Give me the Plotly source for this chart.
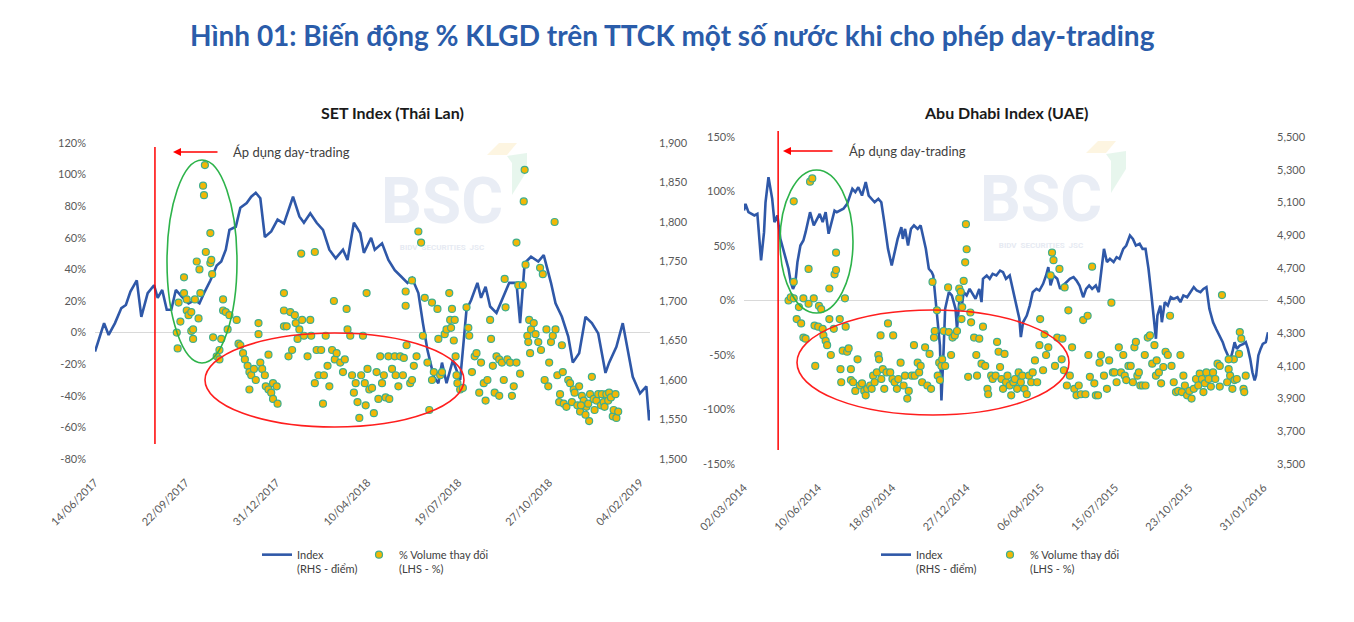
import plotly.graph_objs as go
import pandas as pd

# ---- SET Index (Thai Lan) ----
set_start = "2017-06-14"
set_end_day = 611
set_line_day = [0, 5, 10, 15, 22, 29, 34, 39, 46, 51, 58, 65, 69, 74, 79, 84, 89, 96, 103, 110,
                115, 120, 127, 134, 139, 144, 148, 155, 160, 167, 172, 177, 182, 187, 194, 201,
                208, 218, 225, 230, 237, 244, 251, 258, 265, 273, 278, 285, 292, 296, 304, 308,
                316, 323, 330, 337, 344, 349, 356, 361, 366, 373, 378, 382, 387, 394, 402, 409,
                414, 421, 425, 430, 435, 442, 449, 456, 464, 468, 473, 480, 488, 494, 502, 507,
                514, 521, 526, 533, 540, 547, 554, 562, 566, 574, 581, 585, 592, 600, 607, 610, 611]
set_index = [1636, 1655, 1672, 1657, 1672, 1691, 1695, 1712, 1726, 1680, 1710, 1720, 1704, 1714, 1689, 1689, 1714, 1705, 1697, 1701,
             1697, 1710, 1726, 1745, 1750, 1765, 1790, 1794, 1818, 1824, 1832, 1837, 1830, 1781, 1788, 1803,
             1798, 1832, 1807, 1799, 1811, 1799, 1790, 1765, 1754, 1765, 1752, 1799, 1786, 1761, 1780, 1765,
             1773, 1752, 1739, 1731, 1723, 1729, 1710, 1672, 1638, 1604, 1596, 1622, 1596, 1625, 1600, 1689,
             1701, 1723, 1704, 1718, 1693, 1685, 1705, 1723, 1723, 1672, 1748, 1756, 1750, 1758, 1723, 1697,
             1680, 1655, 1622, 1634, 1680, 1672, 1659, 1609, 1622, 1642, 1672, 1647, 1604, 1583, 1592, 1549, 1562]
set_vol_day = [91, 90, 92, 94, 98, 98, 101, 101, 103, 106, 106, 108,
               108, 110, 112, 115, 114, 116, 119, 120, 121, 122, 127, 127,
               128, 129, 130, 137, 139, 141, 141, 144, 146, 148, 134, 137,
               156, 158, 160, 163, 165, 168, 170, 170, 172, 175, 177, 180,
               180, 182, 184, 187, 188, 191, 191, 194, 196, 196, 200, 201,
               208, 208, 208, 211, 213, 215, 217, 220, 221, 223, 225, 227,
               228, 230, 234, 237, 238, 242, 242, 244, 246, 249, 251, 252,
               254, 256, 258, 261, 263, 264, 266, 270, 273, 275, 277, 278,
               281, 283, 285, 287, 289, 291, 293, 295, 297, 298, 299, 300,
               302, 305, 307, 310, 312, 314, 316, 318, 320, 323, 324, 327,
               330, 331, 334, 336, 339, 340, 343, 347, 349, 351, 354, 356,
               359, 349, 342, 342, 361, 363, 366, 368, 371, 371, 373, 377,
               378, 380, 382, 385, 387, 390, 391, 392, 393, 395, 396, 397,
               398, 399, 402, 405, 409, 411, 412, 415, 418, 420, 423, 425,
               428, 430, 432, 435, 436, 438, 440, 442, 445, 445, 448, 450,
               451, 452, 454, 457, 459, 461, 464, 464, 466, 468, 471, 472,
               473, 474, 476, 477, 478, 479, 480, 483, 485, 488, 490, 491,
               493, 495, 497, 499, 500, 502, 504, 506, 507, 509, 511, 512,
               514, 515, 516, 519, 521, 523, 525, 527, 528, 531, 533, 534,
               536, 538, 540, 541, 543, 545, 547, 549, 550, 552, 554, 557,
               558, 560, 561, 563, 565, 566, 568, 570, 571, 573, 574, 576,
               544, 535]
set_vol_pct = [-10, 0, 19, 7, 25, 35, 21, 14, 11, 13, 1, 2,
               -4, 21, 45, 40, 9, 25, 93, 87, 106, 51, 44, 63,
               46, 37, -3, -11, -4, 21, 14, 13, 2, 11, -15, -17,
               8, -7, -8, -13, -17, -21, -25, -36, -27, -23, -30, 6,
               -1, -19, -23, -27, -34, -36, -14, -38, -32, -42, -34, -45,
               25, 14, 4, 4, -15, 13, -11, 11, 6, -4, 2, 50,
               8, -2, -15, 8, -2, 51, -32, -11, -27, -11, -45, -27,
               -2, -21, -34, -11, 20, -17, -13, -19, -25, -17, 15, 2,
               -2, -27, -38, -32, -44, -54, -27, -2, -32, -46, 25, -23,
               -36, -35, -51, -25, -42, -15, -32, -27, -41, -15, -42, -23,
               -15, -27, -34, -15, -27, -16, -8, -32, -30, -21, -15, 64,
               57, 33, 26, 17, -2, 22, -19, -49, 19, -30, -25, 15,
               -4, -27, -25, -1, 2, 25, 8, 3, 15, -5, 8, -15,
               -27, -32, -36, -35, 16, 3, -2, -25, -15, -13, -38, -19,
               -32, -43, -30, 8, -4, -21, -38, -15, -17, -40, -19, -30,
               34, 16, -17, -19, -40, -34, -19, 57, 30, -26, 30, 83,
               103, 43, -2, -6, 8, -13, 2, 6, -1, -6, 41, -11,
               37, -30, 2, -34, -19, -6, -2, 70, 2, -27, -44, -39,
               -8, -25, -45, -47, -30, -32, -44, -36, -38, -46, -34, -50,
               -40, -43, -52, -47, -45, -39, -28, -42, -49, -43, -39, -46,
               -39, -44, -47, -39, -43, -38, -41, -53, -49, -39, -54, -50,
               -56, -46]
set_start_day = 66
set_date_ticks = ["14/06/2017", "22/09/2017", "31/12/2017", "10/04/2018",
                  "19/07/2018", "27/10/2018", "04/02/2019"]
set_pct_ticks = [-80, -60, -40, -20, 0, 20, 40, 60, 80, 100, 120]

# ---- Abu Dhabi Index (UAE) ----
adx_start = "2014-03-02"
adx_end_day = 706
adx_line_day = [0, 2, 6, 10, 14, 18, 21, 23, 27, 29, 33, 38, 41, 45, 49, 53, 57, 60, 63, 66,
                69, 72, 76, 80, 83, 86, 89, 94, 98, 102, 106, 110, 114, 118, 122, 125, 130, 134, 139, 143,
                146, 150, 154, 159, 164, 168, 172, 176, 181, 185, 189, 194, 199, 203, 207, 212, 214, 217, 221, 225,
                229, 234, 238, 241, 245, 249, 253, 255, 258, 261, 264, 266, 269, 271, 276, 280, 285, 287, 290, 293,
                296, 300, 304, 308, 312, 317, 320, 322, 327, 331, 335, 340, 345, 349, 353, 358, 362, 366, 371, 373,
                376, 381, 385, 389, 394, 398, 403, 407, 410, 413, 417, 422, 426, 430, 434, 439, 444, 448, 452, 457,
                461, 465, 469, 474, 478, 481, 485, 489, 493, 498, 502, 506, 511, 515, 520, 524, 528, 533, 537, 541,
                545, 549, 552, 555, 557, 561, 563, 567, 571, 575, 579, 584, 588, 592, 597, 601, 606, 610, 615, 619,
                623, 627, 632, 636, 641, 645, 648, 652, 655, 658, 661, 664, 668, 673, 676, 679, 682, 685, 688, 690,
                693, 696, 699, 703, 706]
adx_index = [5050, 5091, 5040, 5030, 5020, 5030, 4877, 4745, 4918, 5101, 5254, 5122, 4979, 5020, 4877, 4816, 4755, 4694, 4612, 4571,
             4602, 4735, 4836, 4867, 4918, 4979, 5040, 4959, 5000, 5030, 4979, 5040, 4908, 4979, 5050, 5040, 5050, 5061, 5091, 5142,
             5183, 5163, 5193, 5142, 5224, 5142, 5122, 5101, 5122, 5101, 4979, 4816, 4714, 4796, 4877, 4949, 4877, 4938, 4836, 4938,
             4959, 4938, 4959, 4898, 4816, 4694, 4673, 4653, 4490, 4367, 4225, 3888, 4204, 4449, 4551, 4531, 4449, 4327, 4490, 4449,
             4551, 4531, 4571, 4541, 4510, 4571, 4490, 4633, 4653, 4633, 4663, 4653, 4683, 4673, 4633, 4653, 4571, 4490, 4388, 4276,
             4367, 4408, 4469, 4551, 4571, 4561, 4602, 4653, 4704, 4592, 4653, 4633, 4571, 4592, 4612, 4633, 4643, 4622, 4592, 4520,
             4571, 4592, 4571, 4592, 4551, 4653, 4816, 4735, 4755, 4735, 4765, 4755, 4816, 4836, 4898, 4877, 4836, 4847, 4816, 4816,
             4694, 4531, 4388, 4266, 4408, 4469, 4367, 4490, 4469, 4520, 4510, 4520, 4490, 4531, 4520, 4551, 4582, 4561, 4551, 4571,
             4582, 4449, 4367, 4327, 4286, 4245, 4204, 4164, 4133, 4184, 4245, 4204, 4225, 4235, 4245, 4204, 4143, 4061, 4011, 4041,
             4164, 4204, 4235, 4245, 4306]
adx_vol_day = [60, 63, 67, 67, 67, 71, 74, 77, 80, 80, 83, 87,
               87, 89, 92, 94, 95, 96, 100, 101, 104, 106, 107, 110,
               112, 115, 115, 117, 121, 122, 124, 124, 129, 130, 131, 133,
               136, 137, 139, 141, 144, 144, 147, 150, 153, 156, 159, 162,
               164, 166, 170, 172, 174, 176, 179, 181, 182, 184, 185, 187,
               189, 192, 194, 197, 200, 201, 203, 206, 208, 211, 215, 217,
               220, 222, 226, 229, 230, 234, 236, 238, 240, 244, 247, 250,
               252, 254, 256, 257, 260, 261, 263, 264, 266, 267, 269, 271,
               275, 276, 279, 281, 284, 287, 290, 290, 292, 293, 294, 296,
               298, 299, 300, 302, 305, 306, 310, 313, 314, 317, 320, 322,
               325, 328, 329, 333, 335, 339, 341, 343, 345, 347, 349, 351,
               353, 355, 358, 360, 363, 365, 368, 370, 373, 375, 378, 381,
               384, 387, 389, 392, 395, 398, 399, 403, 405, 407, 410, 413,
               415, 417, 419, 422, 425, 428, 429, 431, 432, 435, 437, 439,
               442, 445, 448, 451, 454, 457, 460, 463, 464, 466, 469, 472,
               474, 477, 479, 481, 485, 489, 492, 495, 497, 499, 502, 505,
               508, 511, 513, 515, 518, 521, 524, 526, 528, 530, 532, 534,
               537, 540, 541, 544, 547, 550, 553, 555, 556, 559, 562, 565,
               568, 571, 574, 576, 579, 582, 585, 588, 590, 592, 594, 597,
               600, 603, 606, 609, 612, 614, 617, 619, 621, 623, 626, 629,
               632, 635, 638, 641, 644, 651, 653, 655, 658, 660, 661, 664,
               667, 668, 670, 673, 674, 676, 641, 653]
adx_vol_pct = [0, 3, 17, 91, 2, -17, -6, -21, 2, -34, -35, 29,
               -3, 109, 112, 2, -23, -60, -24, -5, -8, -26, -32, -37,
               -41, 11, -17, -50, -26, 24, 28, 44, -17, -63, -75, -46,
               2, -24, -47, -44, -63, -73, -75, -83, -54, -78, -76, -83,
               -87, -81, -78, -81, -69, -75, -66, -50, -54, -32, -72, -63,
               -81, -66, -21, -66, -72, -32, -75, -81, -72, -57, -78, -69,
               -90, -83, -69, -41, -69, -57, -66, -60, -75, -43, -78, -49,
               -81, 17, -34, -28, -9, -69, -57, -73, -60, -54, -28, -60,
               12, -29, -50, -34, -32, -28, 11, 2, 8, -17, -6, 18,
               35, 70, 47, -70, -11, -20, -34, -50, -69, -35, -58, -24,
               -60, -81, -86, -69, -72, -69, -38, -47, -61, -72, -81, -49,
               -75, -69, -78, -87, -75, -72, -81, -66, -75, -69, -81, -86,
               -69, -75, -66, -55, -75, -41, -17, -64, -31, -50, -43, 23,
               44, 37, -60, -34, 29, -54, -35, -64, 12, -78, -9, -69,
               -43, -81, -87, -78, -86, -18, -86, -14, -50, -70, 31, -76,
               -87, -87, -57, -50, -69, -81, -55, -2, -66, -66, -75, -43,
               -66, -50, -69, -73, -60, -60, -75, -43, -38, -69, -66, -78,
               -78, -50, -78, -34, -32, -58, -41, -69, -55, -66, -76, -61,
               -47, -50, -14, -60, -75, -84, -83, -50, -84, -69, -78, -87,
               -83, -90, -81, -72, -78, -67, -72, -84, -76, -66, -72, -79,
               -66, -72, -58, -79, 5, -75, -63, -69, -81, -54, -73, -72,
               -49, -29, -35, -81, -84, -69, -60, -54]
adx_start_day = 46
adx_date_ticks = ["02/03/2014", "10/06/2014", "18/09/2014", "27/12/2014", "06/04/2015",
                  "15/07/2015", "23/10/2015", "31/01/2016"]
adx_pct_ticks = [-150, -100, -50, 0, 50, 100, 150]

W, H = 1354, 622
OFF = 8  # page body margin
BLUE = "#2F58A8"
GREY = "#595959"
FONT = "Lato"


def px(x):
    return (x - OFF) / W


def py(y):
    return 1 - (y - OFF) / H


def to_dates(start, days):
    return pd.Timestamp(start) + pd.to_timedelta(days, unit="D")


fig = go.Figure()

marker = dict(size=7, color="#F2B705", line=dict(color="#3FAE8C", width=1.2))
line_name = "Index<br>(RHS - điểm)"
vol_name = "% Volume thay đổi<br>(LHS - %)"

fig.add_trace(go.Scatter(x=to_dates(set_start, set_line_day), y=set_index, mode="lines",
                         line=dict(color=BLUE, width=2.6), name=line_name,
                         xaxis="x", yaxis="y", legend="legend"))
fig.add_trace(go.Scatter(x=to_dates(set_start, set_vol_day), y=set_vol_pct, mode="markers",
                         marker=marker, name=vol_name,
                         xaxis="x", yaxis="y2", legend="legend2"))
fig.add_trace(go.Scatter(x=to_dates(adx_start, adx_line_day), y=adx_index, mode="lines",
                         line=dict(color=BLUE, width=2.6), name=line_name,
                         xaxis="x2", yaxis="y3", legend="legend3"))
fig.add_trace(go.Scatter(x=to_dates(adx_start, adx_vol_day), y=adx_vol_pct, mode="markers",
                         marker=marker, name=vol_name,
                         xaxis="x2", yaxis="y4", legend="legend4"))

tick_font = dict(family=FONT, size=11, color=GREY)


def date_axis(start, end_day, ticks, domain, anchor):
    vals = pd.to_datetime(ticks, format="%d/%m/%Y")
    return dict(domain=domain, anchor=anchor, type="date", automargin=False,
                range=[pd.Timestamp(start), to_dates(start, end_day)],
                tickvals=vals, ticktext=ticks, tickangle=-45, tickfont=tick_font,
                showgrid=False, zeroline=False, showline=False, ticks="",
                ticklabelstandoff=14)


def pct_axis(ticks, overlay, anchor):
    return dict(overlaying=overlay, anchor=anchor, side="left", automargin=False,
                range=[ticks[0], ticks[-1]],
                tickvals=ticks, ticktext=[f"{t}%" for t in ticks], tickfont=tick_font,
                showgrid=False, zeroline=True, zerolinecolor="#D9D9D9", zerolinewidth=1,
                showline=False, ticks="", ticklabelstandoff=8)


def index_axis(rng, dtick, domain, anchor):
    return dict(domain=domain, anchor=anchor, side="right", range=rng, dtick=dtick, tick0=rng[0],
                automargin=False, tickformat=",", tickfont=tick_font, showgrid=False,
                zeroline=False, showline=False, ticks="", ticklabelstandoff=8)


def legend_at(x):
    return dict(orientation="v", x=px(x), y=py(541), xanchor="left", yanchor="top",
                itemwidth=30, valign="top", bgcolor="rgba(0,0,0,0)",
                font=dict(family=FONT, size=11, color="#404040"))


fig.update_layout(
    width=W, height=H,
    margin=dict(l=0, r=0, t=0, b=0, autoexpand=False),
    paper_bgcolor="white", plot_bgcolor="rgba(0,0,0,0)",
    font=dict(family=FONT, color="#404040"),
    showlegend=True,
    xaxis=date_axis(set_start, set_end_day, set_date_ticks, [px(95), px(650)], "y"),
    yaxis=index_axis([1500, 1900], 50, [py(459), py(143)], "x"),
    yaxis2=pct_axis(set_pct_ticks, "y", "x"),
    xaxis2=date_axis(adx_start, adx_end_day, adx_date_ticks, [px(744), px(1268)], "y3"),
    yaxis3=index_axis([3500, 5500], 200, [py(464), py(137)], "x2"),
    yaxis4=pct_axis(adx_pct_ticks, "y3", "x2"),
    legend=legend_at(257),
    legend2=legend_at(359),
    legend3=legend_at(876),
    legend4=legend_at(990),
)

shapes = []
annotations = []

# watermark (behind the data)
for cx, cy in [(442, 196), (1041, 194)]:
    shapes.append(dict(type="rect", xref="paper", yref="paper", layer="below",
                       x0=px(cx - 60), x1=px(cx + 60), y0=py(cy + 28), y1=py(cy - 28),
                       line=dict(width=0), fillcolor="rgba(0,0,0,0)",
                       label=dict(text="<b>BSC</b>", font=dict(family="Roboto", size=64, color="#E9EDF5"))))
    shapes.append(dict(type="rect", xref="paper", yref="paper", layer="below",
                       x0=px(cx - 60), x1=px(cx + 60), y0=py(cy + 56), y1=py(cy + 44),
                       line=dict(width=0), fillcolor="rgba(0,0,0,0)",
                       label=dict(text="<b>BIDV  SECURITIES  JSC</b>",
                                  font=dict(family="Roboto", size=8, color="#E6EAF2"))))
    lx, ly = cx + 45, cy - 53
    shapes.append(dict(type="path", xref="paper", yref="paper", layer="below", line=dict(width=0),
                       fillcolor="rgba(252,236,200,0.55)",
                       path=f"M {px(lx)},{py(ly + 12)} L {px(lx + 12)},{py(ly)} L {px(lx + 30)},{py(ly)} "
                            f"L {px(lx + 20)},{py(ly + 12)} Z"))
    shapes.append(dict(type="path", xref="paper", yref="paper", layer="below", line=dict(width=0),
                       fillcolor="rgba(215,240,225,0.6)",
                       path=f"M {px(lx + 20)},{py(ly + 13)} L {px(lx + 40)},{py(ly + 10)} L {px(lx + 40)},{py(ly + 28)} "
                            f"L {px(lx + 25)},{py(ly + 52)} L {px(lx + 25)},{py(ly + 20)} Z"))

# day-trading start lines
shapes.append(dict(type="line", xref="x", yref="paper",
                   x0=to_dates(set_start, set_start_day), x1=to_dates(set_start, set_start_day),
                   y0=py(444), y1=py(147), line=dict(color="#FF0000", width=1.5)))
shapes.append(dict(type="line", xref="x2", yref="paper",
                   x0=to_dates(adx_start, adx_start_day), x1=to_dates(adx_start, adx_start_day),
                   y0=py(450), y1=py(131), line=dict(color="#FF0000", width=1.5)))

# highlight ellipses
for x0, x1, y0, y1, col in [(167, 237, 160, 363, "#2DB34A"), (205, 464, 333, 427, "#FF1E1E"),
                            (780, 853, 170, 313, "#2DB34A"), (797, 1069, 310, 415, "#FF1E1E")]:
    shapes.append(dict(type="circle", xref="paper", yref="paper",
                       x0=px(x0), x1=px(x1), y0=py(y1), y1=py(y0),
                       line=dict(color=col, width=1.6)))

# arrows and labels
for tip, tail, ty, tx in [(173, 219, 152, 231), (783, 834, 151, 847)]:
    annotations.append(dict(xref="paper", yref="paper", x=px(tip), y=py(ty), text="",
                            showarrow=True, ax=tail - tip, ay=0, arrowhead=2, arrowsize=1,
                            arrowwidth=1.6, arrowcolor="#FF0000"))
    annotations.append(dict(xref="paper", yref="paper", x=px(tx), y=py(ty), text="Áp dụng day-trading",
                            showarrow=False, xanchor="left", yanchor="middle",
                            font=dict(family=FONT, size=13, color="#404040")))

annotations.append(dict(xref="paper", yref="paper", x=px(392), y=py(113), text="<b>SET Index (Thái Lan)</b>",
                        showarrow=False, xanchor="center", yanchor="middle",
                        font=dict(family=FONT, size=16, color="#1A1A1A")))
annotations.append(dict(xref="paper", yref="paper", x=px(1006), y=py(113), text="<b>Abu Dhabi Index (UAE)</b>",
                        showarrow=False, xanchor="center", yanchor="middle",
                        font=dict(family=FONT, size=16, color="#1A1A1A")))
annotations.append(dict(xref="paper", yref="paper", x=px(672), y=py(35),
                        text="<b>Hình 01: Biến động % KLGD trên TTCK một số nước khi cho phép day-trading</b>",
                        showarrow=False, xanchor="center", yanchor="middle",
                        font=dict(family=FONT, size=28, color="#2A5CAA")))

fig.update_layout(shapes=shapes, annotations=annotations)

fig.write_html("out.html")
